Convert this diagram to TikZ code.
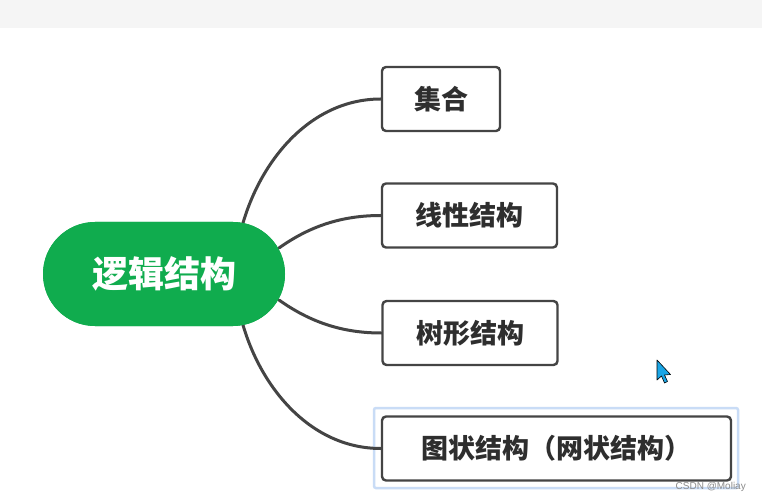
\documentclass[tikz,border=0pt]{standalone}
\usepackage{fontspec}
\newfontfamily\cjk{Noto Sans CJK SC}
\newfontfamily\wmfont{Liberation Sans}
\definecolor{pillgreen}{HTML}{10AC4E}
\definecolor{edgegray}{HTML}{444444}
\definecolor{txtgray}{HTML}{2E2E2E}
\definecolor{selblue}{HTML}{C9DCF6}
\definecolor{cursorblue}{HTML}{1BA6E6}
\tikzset{
  rootnode/.style={fill=pillgreen, rounded corners=52pt, minimum width=242pt, minimum height=104pt, inner sep=0pt, text=white, font=\cjk\bfseries\fontsize{36}{40}\selectfont},
  leafbox/.style={draw=edgegray, line width=2.4pt, fill=white, rounded corners=4pt, minimum height=64pt, inner sep=0pt, text=txtgray, font=\cjk\bfseries\fontsize{27}{30}\selectfont},
  branch/.style={draw=edgegray, line width=3pt, line cap=round},
}
\begin{document}
\begin{tikzpicture}[x=1pt,y=-1pt]
\useasboundingbox (0,0) rectangle (762,502);
\fill[white] (0,0) rectangle (762,502);
\fill[black!4] (0,0) rectangle (762,28);
% selection highlight
\draw[selblue, line width=2.5pt, rounded corners=2pt] (374,408) rectangle (738,488);
% nodes
\node[rootnode] (root) at (164,274) {逻辑结构};
\node[leafbox, minimum width=118pt] (b1) at (441,99) {集合};
\node[leafbox, minimum width=175pt] (b2) at (469.5,215.5) {线性结构};
\node[leafbox, minimum width=175pt] (b3) at (470,333) {树形结构};
\node[leafbox, minimum width=349pt] (b4) at (556.5,448.5) {图状结构（网状结构）};
% connectors
\coordinate (r1) at (243,223);
\coordinate (r2) at (279,248);
\coordinate (r3) at (279,300);
\coordinate (r4) at (243,325);
\begin{scope}[on background layer/.style={}]
\draw[branch] (r1) .. controls (262,158) and (312,99) .. (b1.west);
\draw[branch] (r2) .. controls (310,226) and (342,215.5) .. (b2.west);
\draw[branch] (r3) .. controls (310,322) and (342,333) .. (b3.west);
\draw[branch] (r4) .. controls (262,390) and (312,448.5) .. (b4.west);
\end{scope}
% redraw root on top of connector ends
\node[rootnode] at (164,274) {逻辑结构};
% mouse cursor
\filldraw[fill=cursorblue, draw=black, line width=0.6pt, line join=round]
  (657,360) -- (657,380) -- (661.5,376) -- (664.5,383) -- (667.5,381.5) -- (664.5,375) -- (670.5,374.5) -- cycle;
% watermark
\node[anchor=east, text=black!45, font=\wmfont\fontsize{10}{12}\selectfont, inner sep=0pt] (wm) at (746,487) {CSDN @Moliay};
\end{tikzpicture}
\end{document}
